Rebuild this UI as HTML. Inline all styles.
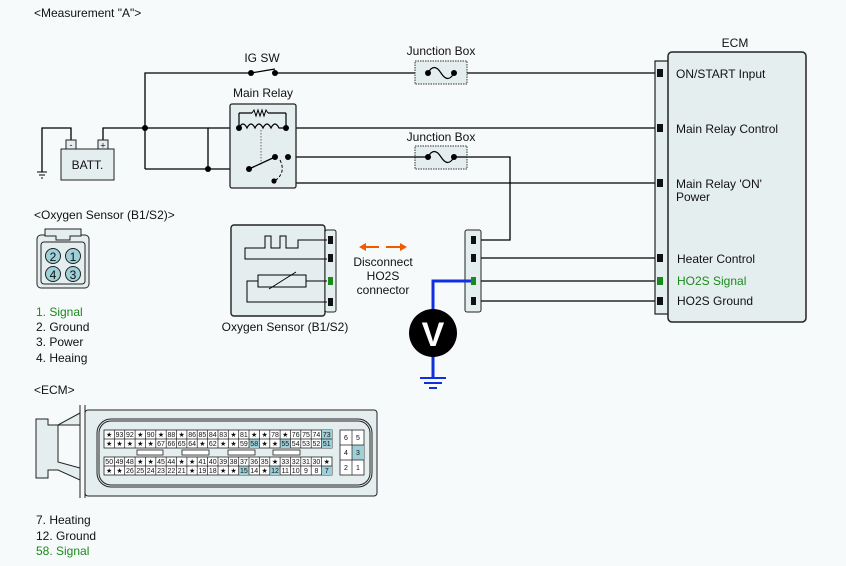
<!DOCTYPE html>
<html><head><meta charset="utf-8"><style>
html,body{margin:0;padding:0;background:#f7fafb}
svg{display:block}
text{font-family:"Liberation Sans",sans-serif;font-size:12px;fill:#111}
.s{font-size:7px;text-anchor:middle}
</style></head><body>
<svg width="846" height="566" viewBox="0 0 846 566" xmlns="http://www.w3.org/2000/svg">
<rect width="846" height="566" fill="#f7fafb"/>
<text x="34" y="17">&lt;Measurement "A"&gt;</text>
<g stroke="#000" stroke-width="1.3" fill="none">
<path d="M145 169 V73 H251 M251 73 L275 69 M275 73 H660"/>
<path d="M145 128 H208 V169 M103 140 V128 H145 M71 140 V128 H42 V172"/>
<path d="M145 169 H249 L275 157 H288 H415 M467 157 H510 V240 H481"/>
<path d="M288 157 V183 H660"/>
<path d="M208 128 H660"/>
<path d="M481 258 H660 M481 281 H660 M481 301 H660"/>
<path d="M239 128 V113 H252 M268 113 H286 V128"/>
<path d="M415 73 H467"/>
</g>
<g stroke="#000" stroke-width="1"><line x1="37" y1="172" x2="47" y2="172"/><line x1="39" y1="175" x2="45" y2="175"/><line x1="41" y1="178" x2="43" y2="178"/></g>
<rect x="61" y="149" width="53" height="31" fill="#e5eeef" stroke="#222" stroke-width="1"/>
<rect x="66" y="140" width="10" height="9" fill="#e5eeef" stroke="#222"/>
<rect x="98" y="140" width="10" height="9" fill="#e5eeef" stroke="#222"/>
<text x="71" y="148" style="font-size:9px" text-anchor="middle">-</text>
<text x="103" y="148.5" style="font-size:9px" text-anchor="middle">+</text>
<text x="87.5" y="169" text-anchor="middle" style="font-size:12px">BATT.</text>
<text x="262" y="62" text-anchor="middle">IG SW</text>
<text x="441" y="55" text-anchor="middle">Junction Box</text>
<rect x="415" y="61" width="52" height="23" fill="#e5eeef" stroke="#333" stroke-dasharray="1.5 1"/>
<path d="M428 73 Q434 62 441 73 T454 73" stroke="#000" fill="none" stroke-width="1.2"/>
<text x="441" y="141" text-anchor="middle">Junction Box</text>
<rect x="415" y="146" width="52" height="23" fill="#e5eeef" stroke="#333" stroke-dasharray="1.5 1"/>
<path d="M428 157 Q434 146 441 157 T454 157" stroke="#000" fill="none" stroke-width="1.2"/>
<line x1="415" y1="157" x2="428" y2="157" stroke="#000" stroke-width="1.3"/>
<line x1="454" y1="157" x2="467" y2="157" stroke="#000" stroke-width="1.3"/>
<text x="263" y="97" text-anchor="middle">Main Relay</text>
<rect x="230" y="104" width="66" height="84" rx="2" fill="#e5eeef" stroke="#222" stroke-width="1.3"/>
<path d="M239 113 V128 M286 113 V128 M239 113 H252 M268 113 H286" stroke="#000" stroke-width="1.2" fill="none"/>
<path d="M252 113 l2 -3 l2 6 l2 -6 l2 6 l2 -6 l2 6 l2 -6 l2 3" stroke="#000" fill="none" stroke-width="1"/>
<path d="M239 128 Q243 120 247 128 Q251 120 255 128 Q259 120 263 128 Q267 120 271 128 Q275 120 279 128 L286 128" stroke="#000" fill="none" stroke-width="1.2"/>
<line x1="261" y1="130" x2="261" y2="165" stroke="#666" stroke-dasharray="1.5 1.5"/>
<line x1="249" y1="169" x2="275" y2="157" stroke="#000" stroke-width="1.3"/>
<path d="M280 160 Q286 172 276 180" stroke="#000" fill="none" stroke-dasharray="3 2"/>
<g fill="#000"><circle cx="239" cy="128" r="3"/><circle cx="286" cy="128" r="3"/><circle cx="249" cy="169" r="3"/><circle cx="275" cy="157" r="3"/><circle cx="288" cy="157" r="3"/><circle cx="274" cy="181" r="2.6"/>
<circle cx="145" cy="128" r="3"/><circle cx="208" cy="169" r="3"/><circle cx="251" cy="73" r="3"/><circle cx="275" cy="73" r="3"/>
<circle cx="428" cy="73" r="3"/><circle cx="454" cy="73" r="3"/><circle cx="428" cy="157" r="3"/><circle cx="454" cy="157" r="3"/></g>
<text x="735" y="47" text-anchor="middle">ECM</text>
<path d="M668 61 H655 V314 H668" fill="#e5eeef" stroke="#222" stroke-width="1.2"/>
<rect x="668" y="52" width="138" height="270" rx="4" fill="#e5eeef" stroke="#222" stroke-width="1.5"/>
<g fill="#111"><rect x="657" y="69" width="6" height="8"/><rect x="657" y="124" width="6" height="8"/><rect x="657" y="179" width="6" height="8"/><rect x="657" y="254" width="6" height="8"/><rect x="657" y="297" width="6" height="8"/></g>
<rect x="657" y="277" width="6" height="8" fill="#1a8a1a"/>
<text x="676" y="78">ON/START Input</text>
<text x="676" y="133">Main Relay Control</text>
<text x="676" y="188">Main Relay 'ON'</text>
<text x="676" y="201">Power</text>
<text x="677" y="263">Heater Control</text>
<text x="677" y="285" style="fill:#1a8a1a">HO2S  Signal</text>
<text x="677" y="305">HO2S  Ground</text>
<rect x="465" y="230" width="16" height="82" rx="2" fill="#e5eeef" stroke="#222"/>
<g fill="#111"><rect x="471" y="236" width="5" height="8"/><rect x="471" y="254" width="5" height="8"/><rect x="471" y="297" width="5" height="8"/></g>
<rect x="231" y="225" width="94" height="91" rx="3" fill="#e5eeef" stroke="#222" stroke-width="1.4"/>
<rect x="325" y="230" width="11" height="82" rx="2" fill="#e5eeef" stroke="#222"/>
<g stroke="#000" stroke-width="1" fill="none">
<path d="M327 240 H298 V248 H286 V236 H280 V248 H271 V236 H265 V248 H245 V259 H327"/>
<path d="M327 281 H306 M258 281 H247 V302 H327"/>
</g>
<rect x="258" y="275" width="48" height="12" fill="#e5eeef" stroke="#000"/>
<line x1="269" y1="289" x2="296" y2="272" stroke="#000"/>
<g fill="#111"><rect x="328" y="236" width="5" height="8"/><rect x="328" y="254" width="5" height="8"/><rect x="328" y="298" width="5" height="8"/></g>
<rect x="328" y="277" width="5" height="8" fill="#1a8a1a"/>
<text x="285" y="331" text-anchor="middle">Oxygen Sensor (B1/S2)</text>
<g fill="#f25a00" stroke="#f25a00" stroke-width="2">
<line x1="364" y1="247" x2="379" y2="247"/><path d="M359 247 l7 -4 v8z" stroke="none"/>
<line x1="386" y1="247" x2="401" y2="247"/><path d="M407 247 l-7 -4 v8z" stroke="none"/>
</g>
<text x="383" y="266" text-anchor="middle">Disconnect</text>
<text x="383" y="280" text-anchor="middle">HO2S</text>
<text x="383" y="294" text-anchor="middle">connector</text>
<path d="M473 281 H433 V378" stroke="#1030e0" stroke-width="3" fill="none"/>
<rect x="471" y="277" width="5" height="8" fill="#1a8a1a"/>
<circle cx="433" cy="333" r="24" fill="#000"/>
<text x="433" y="346" text-anchor="middle" style="font-size:34px;fill:#fff;font-weight:bold">V</text>
<g stroke="#1030e0" stroke-width="2"><line x1="420" y1="378" x2="446" y2="378"/><line x1="424" y1="383" x2="442" y2="383"/><line x1="429" y1="388" x2="437" y2="388"/></g>
<text x="34" y="219">&lt;Oxygen Sensor (B1/S2)&gt;</text>
<rect x="37" y="235" width="52" height="53" rx="4" fill="#e5eeef" stroke="#222"/>
<path d="M45 229 H81 V236 H70 V240 H56 V236 H45 Z" fill="#e5eeef" stroke="#222"/>
<rect x="41" y="242" width="44" height="42" rx="3" fill="none" stroke="#222"/>
<g fill="#9fd0d8" stroke="#222"><circle cx="53" cy="256" r="7.5"/><circle cx="73" cy="256" r="7.5"/><circle cx="53" cy="274" r="7.5"/><circle cx="73" cy="274" r="7.5"/></g>
<g style="font-size:13px" text-anchor="middle"><text x="53" y="261">2</text><text x="73" y="261">1</text><text x="53" y="279">4</text><text x="73" y="279">3</text></g>
<text x="36" y="316" style="fill:#1a8a1a">1. Signal</text>
<text x="36" y="331">2. Ground</text>
<text x="36" y="346">3. Power</text>
<text x="36" y="362">4. Heaing</text>
<text x="34" y="394">&lt;ECM&gt;</text>
<path d="M80 405 V498 M85 405 V498" stroke="#222" fill="none"/>
<path d="M36 419 H48 V425 H58 L80 413 V425 H58 V462 L80 468 V480 L58 470 H48 V478 H36 Z" fill="#e5eeef" stroke="#222"/>
<rect x="85" y="410" width="292" height="86" rx="3" fill="#e5eeef" stroke="#222"/>
<rect x="97" y="419" width="275" height="68" rx="14" fill="none" stroke="#222"/>
<rect x="99" y="421" width="271" height="64" rx="12" fill="none" stroke="#222"/>
<rect x="104" y="430" width="228" height="18" fill="#fff" stroke="#222" stroke-width="0.8"/>
<rect x="104" y="457" width="228" height="18" fill="#fff" stroke="#222" stroke-width="0.8"/>
<g fill="#9fd0d8"><rect x="321.6" y="430" width="10.4" height="9"/><rect x="249" y="439" width="10.4" height="9"/><rect x="280" y="439" width="10.4" height="9"/><rect x="321.6" y="439" width="10.4" height="9"/>
<rect x="238.7" y="466" width="10.4" height="9"/><rect x="269.8" y="466" width="10.4" height="9"/><rect x="321.6" y="466" width="10.4" height="9"/></g>
<path d="M104 439 H332 M104 466 H332 M114.4 430V448M124.7 430V448M135.1 430V448M145.4 430V448M155.8 430V448M166.2 430V448M176.5 430V448M186.9 430V448M197.2 430V448M207.6 430V448M218 430V448M228.3 430V448M238.7 430V448M249 430V448M259.4 430V448M269.8 430V448M280.1 430V448M290.5 430V448M300.8 430V448M311.2 430V448M321.6 430V448 M114.4 457V475M124.7 457V475M135.1 457V475M145.4 457V475M155.8 457V475M166.2 457V475M176.5 457V475M186.9 457V475M197.2 457V475M207.6 457V475M218 457V475M228.3 457V475M238.7 457V475M249 457V475M259.4 457V475M269.8 457V475M280.1 457V475M290.5 457V475M300.8 457V475M311.2 457V475M321.6 457V475" stroke="#222" stroke-width="0.7" fill="none"/>
<g fill="#fff" stroke="#222" stroke-width="0.8"><rect x="137" y="450" width="26" height="5"/><rect x="182" y="450" width="27" height="5"/><rect x="228" y="450" width="27" height="5"/><rect x="273" y="450" width="27" height="5"/></g>
<g class="s">
<text x="109.2" y="437" class="s">★</text><text x="119.5" y="437" class="s">93</text><text x="129.9" y="437" class="s">92</text><text x="140.3" y="437" class="s">★</text><text x="150.6" y="437" class="s">90</text><text x="161" y="437" class="s">★</text><text x="171.4" y="437" class="s">88</text><text x="181.7" y="437" class="s">★</text><text x="192.1" y="437" class="s">86</text><text x="202.4" y="437" class="s">85</text><text x="212.8" y="437" class="s">84</text><text x="223.2" y="437" class="s">83</text><text x="233.5" y="437" class="s">★</text><text x="243.9" y="437" class="s">81</text><text x="254.2" y="437" class="s">★</text><text x="264.6" y="437" class="s">★</text><text x="275" y="437" class="s">78</text><text x="285.3" y="437" class="s">★</text><text x="295.7" y="437" class="s">76</text><text x="306" y="437" class="s">75</text><text x="316.4" y="437" class="s">74</text><text x="326.8" y="437" class="s">73</text>
<text x="109.2" y="446" class="s">★</text><text x="119.5" y="446" class="s">★</text><text x="129.9" y="446" class="s">★</text><text x="140.3" y="446" class="s">★</text><text x="150.6" y="446" class="s">★</text><text x="161" y="446" class="s">67</text><text x="171.4" y="446" class="s">66</text><text x="181.7" y="446" class="s">65</text><text x="192.1" y="446" class="s">64</text><text x="202.4" y="446" class="s">★</text><text x="212.8" y="446" class="s">62</text><text x="223.2" y="446" class="s">★</text><text x="233.5" y="446" class="s">★</text><text x="243.9" y="446" class="s">59</text><text x="254.2" y="446" class="s">58</text><text x="264.6" y="446" class="s">★</text><text x="275" y="446" class="s">★</text><text x="285.3" y="446" class="s">55</text><text x="295.7" y="446" class="s">54</text><text x="306" y="446" class="s">53</text><text x="316.4" y="446" class="s">52</text><text x="326.8" y="446" class="s">51</text>
<text x="109.2" y="464" class="s">50</text><text x="119.5" y="464" class="s">49</text><text x="129.9" y="464" class="s">48</text><text x="140.3" y="464" class="s">★</text><text x="150.6" y="464" class="s">★</text><text x="161" y="464" class="s">45</text><text x="171.4" y="464" class="s">44</text><text x="181.7" y="464" class="s">★</text><text x="192.1" y="464" class="s">★</text><text x="202.4" y="464" class="s">41</text><text x="212.8" y="464" class="s">40</text><text x="223.2" y="464" class="s">39</text><text x="233.5" y="464" class="s">38</text><text x="243.9" y="464" class="s">37</text><text x="254.2" y="464" class="s">36</text><text x="264.6" y="464" class="s">35</text><text x="275" y="464" class="s">★</text><text x="285.3" y="464" class="s">33</text><text x="295.7" y="464" class="s">32</text><text x="306" y="464" class="s">31</text><text x="316.4" y="464" class="s">30</text><text x="326.8" y="464" class="s">★</text>
<text x="109.2" y="473" class="s">★</text><text x="119.5" y="473" class="s">★</text><text x="129.9" y="473" class="s">26</text><text x="140.3" y="473" class="s">25</text><text x="150.6" y="473" class="s">24</text><text x="161" y="473" class="s">23</text><text x="171.4" y="473" class="s">22</text><text x="181.7" y="473" class="s">21</text><text x="192.1" y="473" class="s">★</text><text x="202.4" y="473" class="s">19</text><text x="212.8" y="473" class="s">18</text><text x="223.2" y="473" class="s">★</text><text x="233.5" y="473" class="s">★</text><text x="243.9" y="473" class="s">15</text><text x="254.2" y="473" class="s">14</text><text x="264.6" y="473" class="s">★</text><text x="275" y="473" class="s">12</text><text x="285.3" y="473" class="s">11</text><text x="295.7" y="473" class="s">10</text><text x="306" y="473" class="s">9</text><text x="316.4" y="473" class="s">8</text><text x="326.8" y="473" class="s">7</text>
</g>
<rect x="340" y="430" width="24" height="45" fill="#fff" stroke="#222" stroke-width="0.8"/>
<rect x="352" y="445" width="12" height="15" fill="#9fd0d8"/>
<path d="M352 430V475M340 445H364M340 460H364" stroke="#222" stroke-width="0.7"/>
<text x="346" y="440" class="s">6</text><text x="358" y="440" class="s">5</text><text x="346" y="455" class="s">4</text><text x="358" y="455" class="s">3</text><text x="346" y="470" class="s">2</text><text x="358" y="470" class="s">1</text>
<text x="36" y="524">7. Heating</text>
<text x="36" y="540">12. Ground</text>
<text x="36" y="555" style="fill:#1a8a1a">58. Signal</text>
</svg>
</body></html>
